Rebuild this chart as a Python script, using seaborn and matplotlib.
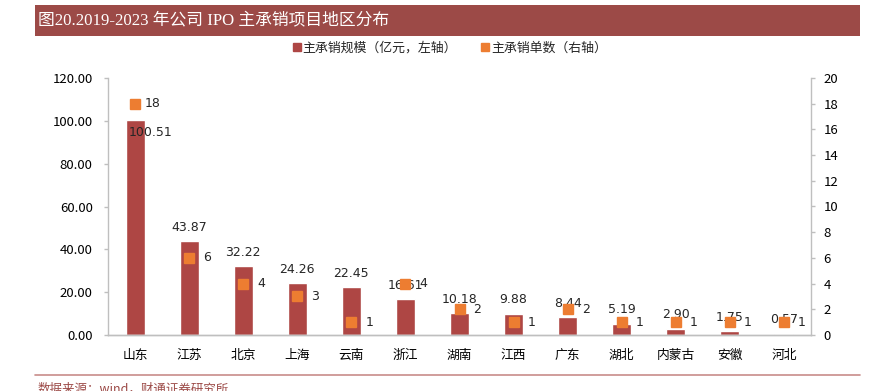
import matplotlib
matplotlib.use("Agg")
import matplotlib.pyplot as plt
import seaborn as sns
import pandas as pd
from matplotlib.patches import Rectangle
from matplotlib.lines import Line2D
from matplotlib.ticker import FormatStrFormatter, MultipleLocator

regions = ["山东", "江苏", "北京", "上海", "云南", "浙江", "湖南", "江西", "广东", "湖北", "内蒙古", "安徽", "河北"]
scale = [100.51, 43.87, 32.22, 24.26, 22.45, 16.61, 10.18, 9.88, 8.44, 5.19, 2.90, 1.75, 0.57]
counts = [18, 6, 4, 3, 1, 4, 2, 1, 2, 1, 1, 1, 1]
title = "图20.2019-2023 年公司 IPO 主承销项目地区分布"
legend_labels = ["主承销规模（亿元，左轴）", "主承销单数（右轴）"]
source = "数据来源：wind，财通证券研究所"

sns.set_theme(style="white")
plt.rcParams['font.family'] = ['Noto Sans CJK SC', 'DejaVu Sans']
plt.rcParams['axes.unicode_minus'] = False

BAR = "#AE4644"
ORANGE = "#ED7D31"
GRID = "#BFBFBF"

df = pd.DataFrame({"region": regions, "scale": scale, "count": counts})

fig = plt.figure(figsize=(8.81, 3.91), dpi=100)
ax = fig.add_axes([108/881, 1-335/391, (811-108)/881, (335-78)/391])

sns.barplot(data=df, x="region", y="scale", color=BAR, width=0.35, ax=ax, saturation=1)
ax.set_ylim(0, 120)
ax.yaxis.set_major_locator(MultipleLocator(20))
ax.yaxis.set_major_formatter(FormatStrFormatter("%.2f"))
ax.set_xlim(-0.5, len(regions)-0.5)
ax.set_xlabel("")
ax.set_ylabel("")

ax2 = ax.twinx()
ax2.plot(range(len(regions)), df["count"], linestyle="none", marker="s", markersize=7.2,
         color=ORANGE, zorder=5)
ax2.set_ylim(0, 20)
ax2.yaxis.set_major_locator(MultipleLocator(2))
ax2.set_ylabel("")

for a in (ax, ax2):
    for s in a.spines.values():
        s.set_color(GRID)
        s.set_linewidth(1.0)
    a.spines['top'].set_visible(False)
    a.tick_params(axis='both', colors="#000000", labelsize=9.5, length=3, width=1, direction='out')
    a.tick_params(axis='both', color=GRID)
    a.grid(False)
ax.spines['right'].set_visible(False)
ax2.spines['left'].set_visible(False)
ax.tick_params(axis='x', length=0, pad=10, labelsize=9.2)
ax.tick_params(axis='y', pad=8)
ax2.tick_params(axis='y', pad=6)

# value labels for bars (outside end; the tallest one sits just inside the bar top)
for i, v in enumerate(scale):
    if v > 90:
        ax.annotate(f"{v:.2f}", (i, v), xytext=(11, -9.5), textcoords="offset points",
                    ha="center", va="center", fontsize=9, family="DejaVu Sans")
    else:
        ax.annotate(f"{v:.2f}", (i, v), xytext=(0, 10), textcoords="offset points",
                    ha="center", va="center", fontsize=9, family="DejaVu Sans")
for i, c in enumerate(counts):
    ax2.annotate(f"{c}", (i, c), xytext=(13, 0), textcoords="offset points",
                 ha="center", va="center", fontsize=9, family="DejaVu Sans", zorder=6)

# legend
handles = [Line2D([], [], linestyle="none", marker="s", markersize=5.5, color=BAR),
           Line2D([], [], linestyle="none", marker="s", markersize=5.5, color=ORANGE)]
fig.legend(handles, legend_labels, loc="center", bbox_to_anchor=(0.51, 1-48.5/391), ncol=2,
           frameon=False, fontsize=9.3, handletextpad=0.05, columnspacing=1.8, handlelength=0.8)

# title bar
fig.patches.append(Rectangle((35/881, 1-36/391), (860-35)/881, 31/391, transform=fig.transFigure,
                             facecolor="#9C4A47", edgecolor="none", zorder=0))
fig.text(38/881, 1-20/391, title, color="white", fontsize=12.1, va="center", ha="left",
         family=["Liberation Serif", "Noto Sans CJK SC"])

# bottom line and source
fig.add_artist(Line2D([35/881, 860/881], [1-375/391, 1-375/391], transform=fig.transFigure,
                      color="#C88C8A", linewidth=1.2))
fig.text(38/881, 1-383/391, source, color="#9C4A47", fontsize=9, va="top", ha="left")

fig.savefig("out.png", dpi=100)
